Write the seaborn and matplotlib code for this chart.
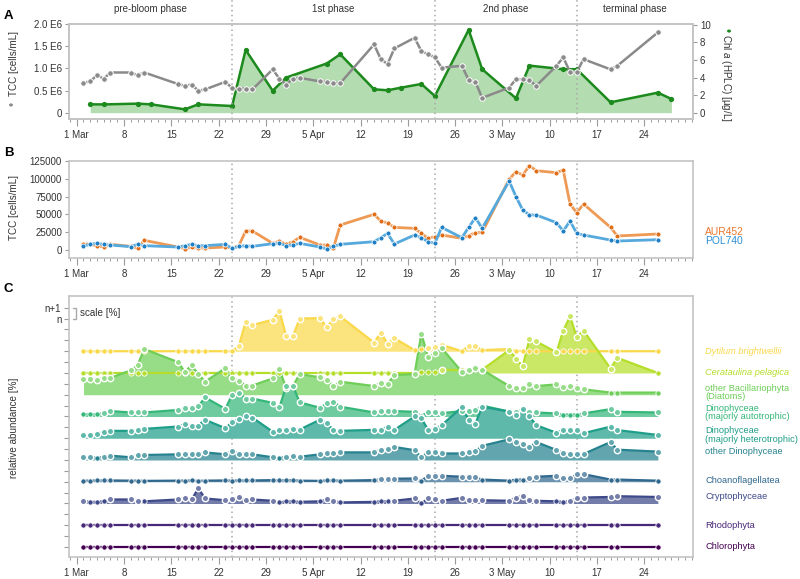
import numpy as np
import matplotlib
matplotlib.use("Agg")
import matplotlib.pyplot as plt
import matplotlib.transforms as mtrans
import seaborn as sns

# ------------------------------------------------------------------ data
tick_days = [0, 7, 14, 21, 28, 35, 42, 49, 56, 63, 70, 77, 84]
tick_labels = ["1 Mar", "8", "15", "22", "29", "5 Apr", "12", "19", "26",
               "3 May", "10", "17", "24"]
phase_bounds = [23, 53, 74]
phase_names = ["pre-bloom phase", "1st phase", "2nd phase", "terminal phase"]

# sampling days (days after 1 March)
sample_days = [1, 2, 3, 4, 5, 8, 9, 10, 15, 16, 17, 18, 19, 22, 23, 24, 25, 26,
               29, 30, 31, 32, 33, 36, 37, 38, 39, 44, 45, 46, 47, 50, 51, 52,
               53, 54, 57, 58, 59, 60, 64, 65, 66, 67, 68, 71, 72, 73, 74, 75,
               79, 80, 86]

# Panel A: total cell counts (E6 cells/mL) and Chl a (ug/L)
tcc_total_e6 = [0.68, 0.71, 0.85, 0.77, 0.91, 0.91, 0.85, 0.91,
                0.65, 0.61, 0.64, 0.50, 0.53, 0.70, 0.56, 0.55, 0.55, 0.53,
                0.98, 0.77, 0.64, 0.77, 0.79, 0.71, 0.70, 0.68, 0.67,
                1.54, 1.21, 1.10, 1.45, 1.69, 1.39, 1.32, 1.25, 1.02,
                1.06, 0.74, 0.70, 0.34, 0.57, 0.76, 0.76, 0.74, 0.61,
                1.06, 1.25, 0.92, 0.92, 1.21, 0.98, 1.06, 1.81]
chl_days = [2, 4, 9, 11, 16, 18, 23, 25, 29, 31, 37, 39, 44, 46, 48, 51, 53,
            58, 60, 65, 67, 72, 74, 79, 86, 88]
chl_a = [0.95, 0.94, 1.03, 0.95, 0.38, 0.95, 0.76, 7.15, 2.5, 4.0, 5.6, 6.65,
         2.66, 2.55, 2.85, 3.27, 1.9, 9.43, 4.95, 1.64, 5.36, 4.95, 4.95, 1.18,
         2.28, 1.56]

# Panel B: TCC of two strains (cells/mL)
aur452 = [8400, 8400, 5600, 4200, 8000, 5150, 2340, 13600,
          4200, 1900, 3750, 2800, 2800, 4200, 2800, 6100, 26700, 26700,
          9400, 12600, 8000, 11700, 17800, 7000, 7000, 3300, 35100,
          50100, 40700, 37900, 31800, 30400, 23400, 16400, 18700, 21100,
          16400, 20100, 24300, 24800, 99300, 110000, 105300, 118500, 111400,
          108600, 112400, 64600, 52400, 64600, 31800, 19700, 22500]
pol740 = [5600, 8000, 9400, 8000, 7000, 4700, 8000, 6100,
          4200, 6100, 8000, 6100, 6100, 8000, 2340, 5000, 6100, 5150,
          8900, 9400, 6100, 7000, 9400, 4200, 1400, 5150, 8000,
          11700, 17300, 23400, 8400, 21100, 17300, 11700, 9400, 31800,
          17300, 31800, 45400, 30400, 96900, 74900, 56200, 49200, 49200,
          38400, 26700, 40700, 23400, 21100, 14000, 12600, 14500]

# Panel C: relative abundance (in scale units, n -> n+1)
group_names = ["Dytilum brightwellii", "Cerataulina pelagica",
               "other Bacillariophyta\n(Diatoms)",
               "Dinophyceae\n(majorly autotrophic)",
               "Dinophyceae\n(majorly heterotrophic)",
               "other Dinophyceae", "Choanoflagellatea", "Cryptophyceae",
               "Rhodophyta", "Chlorophyta"]
dytilum = [0, 0, 0, 0, 0, 0, 0, 0, 0, 0, 0, 0, 0, 0, 0, 0.5, 2.7, 2.4,
           2.9, 3.7, 1.4, 1.4, 3.0, 3.05, 2.2, 3.0, 3.2, 0.8, 1.7, 0.7, 1.2,
           0.1, 0.2, 0.3, 0.4, 0.6, 0, 0.5, 0.45, 0.1, 0.2, 0.05, 0, 0, 0,
           0, 0, 0, 0, 0, 0, 0, 0]
cerataulina = [0, 0, 0, 0, 0, 0, 0, 0, 0, 0, 0, 0, 0, 0, 0, 0, 0, 0,
               0, 0, 0, 0, 0, 0, 0, 0, 0, 0, 0, 0, 0,
               0, 0.1, 0.05, 0.1, 0.3, 0.25, 0.4, 0.45, 0.3,
               2.1, 1.33, 0.62, 3.1, 2.9, 1.9, 3.9, 5.2, 3.3, 3.9, 0.4, 1.4, 0]
other_bacillariophyta = [1.47, 1.45, 1.4, 1.55, 1.55, 2.24, 2.7, 4.2,
                         3.0, 2.1, 2.7, 1.9, 1.2, 2.45, 1.5, 1.3, 0.85, 0.85,
                         1.5, 2.35, 0.6, 0.8, 1.9, 1.6, 1.4, 0.8, 1.2,
                         0.8, 1.1, 1.0, 1.8, 1.9, 5.6, 3.5, 3.8, 4.3,
                         2.1, 2.3, 2.45, 2.3, 0.8, 0.6, 0.6, 1.0, 0.8,
                         0.95, 0.7, 0.85, 0.6, 0.5, 0.2, 0.2, 0.2]
dino_auto = [0.2, 0.2, 0.2, 0.35, 0.5, 0.37, 0.37, 0.37,
             0.6, 0.75, 0.75, 0.95, 1.75, 0.7, 2.0, 2.2, 1.65, 1.65,
             1.25, 0.85, 2.8, 2.8, 1.3, 0.8, 1.2, 1.35, 0.9,
             0.37, 0.5, 0.5, 0.5, 0.43, 0.06, 0.4, 0.4, 0.3,
             0.5, 0.5, 0.6, 1.0, 0.45, 0.4, 0.7, 0.4, 0.37,
             0.28, 0.18, 0.18, 0.18, 0.28, 0.68, 0.43, 0.37]
dino_hetero = [0.3, 0.3, 0.37, 0.6, 0.68, 0.68, 0.77, 0.86,
               1.08, 1.3, 1.17, 1.17, 1.7, 0.92, 1.48, 1.78, 2.0, 1.9,
               0.6, 0.77, 0.77, 0.86, 0.8, 1.7, 1.38, 0.77, 0.68,
               0.77, 0.77, 1.08, 0.77, 2.0, 1.84, 0.77, 0.86, 1.2,
               2.85, 1.69, 1.35, 2.9, 2.45, 2.15, 2.7, 2.0, 1.2,
               0.5, 0.8, 0.77, 0.75, 0.46, 1.07, 0.75, 0.3]
other_dino = [0.25, 0.25, 0.2, 0.3, 0.4, 0.25, 0.46, 0.46,
              0.52, 0.58, 0.52, 0.58, 0.7, 0.52, 0.83, 0.58, 0.58, 0.52,
              0.25, 0.2, 0.3, 0.34, 0.3, 0.52, 0.6, 0.6, 0.7,
              0.7, 0.92, 1.0, 1.2, 0.9, 0.25, 0.72, 0.77, 0.6,
              0.6, 0.72, 0.8, 1.3, 1.9, 1.65, 1.5, 1.15, 1.65,
              0.92, 0.65, 0.55, 0.55, 0.55, 1.65, 0.95, 0.77]
choanoflagellatea = [0.1, 0.1, 0.12, 0.12, 0.12, 0.1, 0.1, 0.08,
                     0.1, 0.1, 0.12, 0.08, 0.1, 0.12, 0.1, 0.12, 0.12, 0.12,
                     0.15, 0.12, 0.15, 0.15, 0.1, 0.08, 0.12, 0.12, 0.1,
                     0.15, 0.25, 0.25, 0.28, 0.3, 0.1, 0.52, 0.55, 0.55,
                     0.46, 0.46, 0.4, 0.2, 0.1, 0.2, 0.2, 0.3, 0.46,
                     0.55, 0.3, 0.3, 0.7, 0.7, 0.2, 0.2, 0.1]
cryptophyceae = [0.25, 0.15, 0.15, 0.2, 0.37, 0.37, 0.25, 0.2,
                 0.37, 0.55, 0.37, 1.38, 0.46, 0.3, 0.37, 0.6, 0.3, 0.37,
                 0.25, 0.1, 0.2, 0.2, 0.15, 0.2, 0.37, 0.25, 0.1,
                 0.15, 0.2, 0.2, 0.25, 0.46, 0.0, 0.46, 0.37, 0.25,
                 0.52, 0.3, 0.3, 0.3, 0.25, 0.55, 0.7, 0.3, 0.25,
                 0.2, 0.15, 0.25, 0.46, 0.55, 0.6, 0.67, 0.6]
rhodophyta = [0] * 53
chlorophyta = [0] * 53
group_values = [dytilum, cerataulina, other_bacillariophyta, dino_auto,
                dino_hetero, other_dino, choanoflagellatea, cryptophyceae,
                rhodophyta, chlorophyta]
group_colors = ["#f9d84a", "#b5de2b", "#6ece58", "#35b779", "#1f9e89",
                "#26828e", "#31688e", "#3e4989", "#482878", "#440154"]
group_baselines = [18, 16, 14, 12, 10, 8, 6, 4, 2, 0]

# ------------------------------------------------------------------ style
sns.set_theme(style="ticks")
plt.rcParams['font.family'] = ['Liberation Sans', 'DejaVu Sans']
plt.rcParams['mathtext.fontset'] = 'custom'
plt.rcParams['mathtext.it'] = 'Liberation Sans:italic'
plt.rcParams['mathtext.rm'] = 'Liberation Sans'

SP = '#c4c4c4'
TK = '#9a9a9a'
TX = '#333333'
FS = 7.0
LFS = 6.7
XL = (-1.14, 91.2)

fig = plt.figure(figsize=(8, 5.79), dpi=100)
W, H = 800.0, 579.0


def box(l, t, r, b):
    return [l / W, 1 - b / H, (r - l) / W, (b - t) / H]


axA = fig.add_axes(box(69, 24, 693, 119))
axB = fig.add_axes(box(69, 161, 693, 258))
axC = fig.add_axes(box(69, 296, 693, 557))


def style(ax):
    for s in ax.spines.values():
        s.set_visible(True)
        s.set_color(SP)
        s.set_linewidth(1.2)
    ax.tick_params(axis='both', colors=TK, labelcolor=TX, labelsize=FS,
                   width=0.8, length=3, direction='out', pad=2)
    ax.set_xlim(XL)
    ax.set_xticks(tick_days)
    ax.set_xticklabels(tick_labels)
    ax.set_xticks(np.arange(-1, 92), minor=True)
    ax.tick_params(axis='x', which='minor', length=2.5, width=0.7, colors=TK)
    ax.tick_params(axis='x', which='major', length=5, width=0.8, pad=3)
    ax.grid(False)


def phase_lines(ax, top=1.0):
    for d in phase_bounds:
        ax.axvline(d, ymin=0, ymax=top, color='#a8a8a8', lw=1.1,
                   ls=(0, (1, 2.2)), clip_on=False, zorder=0.5)


# ------------------------------------------------------------------ Panel A
axA2 = axA.twinx()
style(axA)
style(axA2)
axA.set_zorder(axA2.get_zorder() + 1)
axA.patch.set_visible(False)

axA2.fill_between(chl_days, 0, chl_a, color='#b4dcb1', lw=0, zorder=1)
sns.lineplot(x=chl_days, y=chl_a, ax=axA2, color='#1c8a1c', lw=1.8,
             marker='o', ms=3.8, mfc='#1c8a1c', mec='#1c8a1c', mew=0,
             zorder=3)
tcc = np.array(tcc_total_e6) * 1e6
sns.lineplot(x=sample_days, y=tcc, ax=axA, color='#8a8a8a', lw=1.8,
             marker='o', ms=4.0, mfc='#8a8a8a', mec='white', mew=0.7,
             zorder=3)
axA.set_ylim(-0.135e6, 2.0e6)
axA.set_yticks([0, 0.5e6, 1.0e6, 1.5e6, 2.0e6])
axA.set_yticklabels(["0", "0.5 E6", "1.0 E6", "1.5 E6", "2.0 E6"])
axA2.set_ylim(-0.72, 10.1)
axA2.set_yticks([0, 2, 4, 6, 8, 10])
axA.set_ylabel("")
axA2.set_ylabel("")
axA.set_xlim(XL)
axA2.set_xlim(XL)
phase_lines(axA, top=119 / 95.0)

trA = mtrans.blended_transform_factory(axA.transData, axA.transAxes)
centers = [(XL[0] + phase_bounds[0]) / 2, (phase_bounds[0] + phase_bounds[1]) / 2,
           (phase_bounds[1] + phase_bounds[2]) / 2, (phase_bounds[2] + XL[1]) / 2]
for c, nm in zip(centers, phase_names):
    axA.text(c, (119 - 9) / 95.0, nm, transform=trA, ha='center', va='center',
             fontsize=7.0, color=TX)

fig.text(14 / W, 1 - 63 / H, "TCC [cells/mL]", rotation=90, ha='center',
         va='center', fontsize=7.1, color=TX)
fig.text(14 / W, 1 - 104 / H, "\u2022", rotation=90, ha='center',
         va='center', fontsize=8.5, color='#8a8a8a')
fig.text(726 / W, 1 - 78 / H, "Chl $\\it{a}$ (HPLC) [µg/L]", rotation=-90,
         ha='center', va='center', fontsize=7.1, color=TX)
fig.text(726 / W, 1 - 30 / H, "\u2022", rotation=-90, ha='center',
         va='center', fontsize=8.5, color='#1c8a1c')

# ------------------------------------------------------------------ Panel B
style(axB)
sns.lineplot(x=sample_days, y=aur452, ax=axB, color='#ee9a55', lw=2.0,
             marker='o', ms=3.6, mfc='#e06e18', mec='white', mew=0.6,
             zorder=3)
sns.lineplot(x=sample_days, y=pol740, ax=axB, color='#55a9dc', lw=2.0,
             marker='o', ms=3.6, mfc='#1f7fc4', mec='white', mew=0.6,
             zorder=4)
axB.set_ylim(-11200, 125000)
axB.set_yticks([0, 25000, 50000, 75000, 100000, 125000])
axB.set_yticklabels(["0", "25000", "50000", "75000", "100000", "125000"])
axB.set_ylabel("")
axB.set_xlim(XL)
phase_lines(axB)
fig.text(14 / W, 1 - 208 / H, "TCC [cells/mL]", rotation=90, ha='center',
         va='center', fontsize=7.1, color=TX)
fig.text(705 / W, 1 - 232 / H, "AUR452", ha='left', va='center',
         fontsize=7.4, color='#e8772e')
fig.text(705 / W, 1 - 241.5 / H, "POL740", ha='left', va='center',
         fontsize=7.4, color='#2d8fd5')

# ------------------------------------------------------------------ Panel C
style(axC)
axC.set_ylim(-0.92, 23.08)
axC.set_yticks(range(23))
axC.set_yticklabels(["n" if i == 21 else ("n+1" if i == 22 else "")
                     for i in range(23)])
axC.tick_params(axis='y', length=3.5)
phase_lines(axC)

sd = np.array(sample_days)


def lighten(c, a=0.72):
    rgb = np.array(matplotlib.colors.to_rgb(c))
    return tuple(a * rgb + (1 - a) * np.ones(3))


for i, (vals, col, base) in enumerate(zip(group_values, group_colors,
                                          group_baselines)):
    v = np.array(vals, dtype=float)
    axC.fill_between(sd, base, base + v, color=lighten(col), lw=0,
                     zorder=1 + i * 0.01)

for i, (vals, col, base) in enumerate(zip(group_values, group_colors,
                                          group_baselines)):
    v = np.array(vals, dtype=float)
    y = base + v
    sns.lineplot(x=sd, y=y, ax=axC, color=col, lw=1.6, zorder=3 + i * 0.01)
    closed = v < 0.25
    axC.plot(sd[closed], y[closed], 'o', ms=3.8, mfc=col, mec='white',
             mew=0.6, zorder=3.5 + i * 0.01)
    axC.plot(sd[~closed], y[~closed], 'o', ms=4.6, mfc=lighten(col),
             mec='white', mew=1.0, zorder=3.5 + i * 0.01)
axC.set_ylabel("")
axC.set_xlim(XL)

# right-hand group labels placed at the last value
yC = lambda val: 296 + (23.08 - val) / (23.08 + 0.92) * 261
for nm, vals, col, base in zip(group_names, group_values, group_colors,
                               group_baselines):
    yv = base + vals[-1]
    italic = nm in ("Dytilum brightwellii", "Cerataulina pelagica")
    fig.text(705 / W, 1 - yC(yv) / H, nm, ha='left', va='center',
             fontsize=LFS, color=col, style='italic' if italic else 'normal',
             linespacing=0.95)

# scale bracket
axC.plot([-0.6, -0.12, -0.12, -0.6], [22, 22, 21, 21], color='#aaaaaa',
         lw=1.0, clip_on=False, zorder=5)
axC.text(0.45, 21.5, "scale [%]", ha='left', va='center', fontsize=7.1,
         color=TX)
fig.text(14 / W, 1 - 428 / H, "relative abundance [%]", rotation=90,
         ha='center', va='center', fontsize=7.1, color=TX)

# panel letters
for lt, yy in zip("ABC", [16, 153, 289]):
    fig.text(4 / W, 1 - yy / H, lt, ha='left', va='center', fontsize=9.5,
             fontweight='bold', color='black')

fig.savefig("out.png", dpi=100)
